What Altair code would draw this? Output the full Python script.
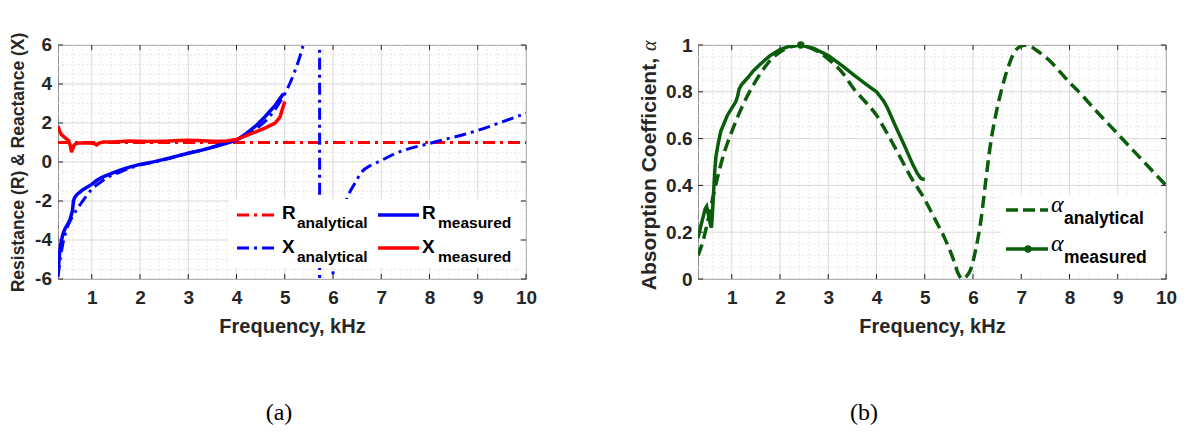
import altair as alt
import pandas as pd

# ---------------- panel (a): impedance ----------------
r_an_freq = [0.3, 10.0]
r_an_val = [1.0, 1.0]

x_an_freq = [0.3, 0.35, 0.4, 0.5, 0.6, 0.7, 0.8, 0.9, 1.0, 1.2, 1.4, 1.6, 1.8, 2.0,
             2.3, 2.6, 3.0, 3.3, 3.6, 4.0, 4.2, 4.4, 4.6, 4.8, 5.0, 5.1, 5.2, 5.3,
             5.38, 5.45, 5.72, 5.725, 5.9, 5.99, 6.05, 6.1, 6.2, 6.3, 6.45, 6.6,
             6.8, 7.0, 7.3, 7.6, 8.0, 8.3, 8.7, 9.0, 9.5, 10.0]
x_an_val = [-5.9, -4.9, -4.2, -3.3, -2.8, -2.4, -2.05, -1.7, -1.4, -1.0, -0.7, -0.5,
            -0.3, -0.15, 0.0, 0.18, 0.45, 0.62, 0.85, 1.15, 1.4, 1.7, 2.1, 2.7, 3.5,
            4.0, 4.6, 5.3, 6.0, 7.0, 100.0, -100.0, -9.0, -6.0, -4.4, -3.5, -2.5,
            -1.8, -1.1, -0.5, -0.15, 0.08, 0.45, 0.7, 0.95, 1.15, 1.4, 1.62, 2.05, 2.5]

# blue solid (legend: R measured)
blue_meas_freq = [0.3, 0.32, 0.35, 0.4, 0.45, 0.5, 0.55, 0.6, 0.62, 0.65, 0.7, 0.8, 0.9,
                  1.0, 1.1, 1.2, 1.4, 1.6, 1.8, 2.0, 2.3, 2.6, 3.0, 3.3, 3.6, 4.0, 4.2,
                  4.4, 4.6, 4.8, 4.9, 4.97]
blue_meas_val = [-5.8, -5.0, -4.3, -3.7, -3.4, -3.2, -2.95, -2.5, -2.0, -1.8, -1.65,
                 -1.45, -1.3, -1.15, -0.95, -0.8, -0.6, -0.4, -0.25, -0.12, 0.02, 0.2,
                 0.45, 0.62, 0.82, 1.12, 1.45, 1.85, 2.35, 2.9, 3.25, 3.5]

# red solid (legend: X measured)
red_meas_freq = [0.3, 0.33, 0.37, 0.42, 0.47, 0.52, 0.56, 0.58, 0.6, 0.63, 0.68, 0.75,
                 0.85, 0.95, 1.05, 1.1, 1.15, 1.25, 1.4, 1.6, 1.8, 2.0, 2.2, 2.5, 2.8,
                 3.0, 3.2, 3.5, 3.8, 4.0, 4.2, 4.4, 4.6, 4.8, 4.9, 4.95, 5.0]
red_meas_val = [1.85, 1.6, 1.4, 1.3, 1.2, 1.1, 0.8, 0.5, 0.65, 0.85, 0.95, 0.98, 0.97,
                0.98, 0.95, 0.88, 0.97, 1.02, 1.03, 1.05, 1.08, 1.06, 1.05, 1.07, 1.1,
                1.12, 1.1, 1.06, 1.08, 1.15, 1.35, 1.55, 1.75, 2.0, 2.3, 2.7, 3.1]

# ---------------- panel (b): absorption ----------------
a_an_freq = [0.3, 0.4, 0.5, 0.6, 0.7, 0.8, 0.9, 1.0, 1.2, 1.33, 1.6, 1.8, 2.0, 2.2,
             2.43, 2.6, 2.8, 3.0, 3.3, 3.54, 3.8, 4.0, 4.2, 4.44, 4.7, 5.0, 5.2, 5.4,
             5.6, 5.7, 5.78, 5.86, 5.95, 6.05, 6.17, 6.27, 6.37, 6.47, 6.58, 6.72,
             6.86, 7.0, 7.13, 7.3, 7.55, 8.0, 8.24, 8.5, 9.0, 9.5, 10.0]
a_an_val = [0.10, 0.16, 0.245, 0.34, 0.43, 0.51, 0.575, 0.63, 0.73, 0.785, 0.88, 0.935,
            0.97, 0.99, 1.0, 0.99, 0.97, 0.94, 0.88, 0.81, 0.75, 0.70, 0.63, 0.54, 0.44,
            0.34, 0.26, 0.18, 0.08, 0.02, 0.0, 0.01, 0.04, 0.12, 0.26, 0.43, 0.586,
            0.70, 0.80, 0.90, 0.97, 0.995, 1.0, 0.98, 0.94, 0.84, 0.79, 0.73, 0.62,
            0.51, 0.40]

a_meas_freq = [0.3, 0.35, 0.4, 0.45, 0.48, 0.5, 0.53, 0.56, 0.58, 0.6, 0.62, 0.65,
               0.67, 0.72, 0.77, 0.85, 0.91, 1.0, 1.08, 1.12, 1.15, 1.2, 1.33, 1.45,
               1.6, 1.8, 2.0, 2.2, 2.43, 2.7, 3.0, 3.3, 3.54, 3.8, 4.0, 4.15, 4.23,
               4.4, 4.58, 4.75, 4.85, 4.92, 5.0]
a_meas_val = [0.175, 0.22, 0.26, 0.30, 0.31, 0.29, 0.26, 0.23, 0.22, 0.28, 0.36, 0.47,
              0.52, 0.58, 0.63, 0.67, 0.70, 0.73, 0.756, 0.78, 0.81, 0.83, 0.86, 0.89,
              0.92, 0.955, 0.98, 0.995, 1.0, 0.985, 0.955, 0.91, 0.87, 0.83, 0.80,
              0.76, 0.73, 0.65, 0.57, 0.49, 0.45, 0.43, 0.425]
a_peak_freq = [2.43]
a_peak_val = [1.0]

# tick values / labels
x_major = [1, 2, 3, 4, 5, 6, 7, 8, 9, 10]
ya_major = [-6, -4, -2, 0, 2, 4, 6]
ya_labels = ["-6", "-4", "-2", "0", "2", "4", "6"]
yb_major = [0, 0.2, 0.4, 0.6, 0.8, 1]
x_minor = [round(0.2 * i, 2) for i in range(2, 51) if i % 5]
ya_minor = [round(-6 + 0.5 * i, 2) for i in range(0, 25) if i % 4]
yb_minor = [round(0.05 * i, 2) for i in range(0, 21) if i % 4]

captions = ["(a)", "(b)"]

# ---------------- styling ----------------
W, H = 468, 234
TXT = "#262626"
SANS = "Liberation Sans"
SERIF = "Liberation Serif"
RED, BLUE, GREEN = "#ff0000", "#0000ff", "#0b5d0b"
MAJ_GRID, MIN_GRID = "#d9d9d9", "#e8e8e8"
DASHDOT = [12, 5, 3, 5]
DOT = pd.DataFrame({"d": [0]})


def df(f, v):
    return pd.DataFrame({"f": f, "v": v})


def rule(x1, x2, y, color, width, dash=None):
    kw = dict(color=color, strokeWidth=width)
    if dash:
        kw["strokeDash"] = dash
    return alt.Chart(DOT).mark_rule(**kw).encode(
        x=alt.value(x1), x2=alt.value(x2), y=alt.value(y))


def txt(x, y, s, size, font=SANS, weight="bold", style="normal", align="left", angle=0,
        color="black"):
    return alt.Chart(DOT).mark_text(
        text=s, font=font, fontSize=size, fontWeight=weight, fontStyle=style,
        align=align, baseline="alphabetic", angle=angle, color=color,
    ).encode(x=alt.value(x), y=alt.value(y))


def box(x1, x2, y1, y2):
    return alt.Chart(DOT).mark_rect(color="white").encode(
        x=alt.value(x1), x2=alt.value(x2), y=alt.value(y1), y2=alt.value(y2))


def grid_and_ticks(xs, ys, xmin, ymin):
    layers = []
    layers.append(alt.Chart(pd.DataFrame({"f": xmin})).mark_rule(
        color=MIN_GRID, strokeWidth=1, strokeDash=[2, 2]).encode(
        x=alt.X("f:Q"), y=alt.value(0), y2=alt.value(H)))
    layers.append(alt.Chart(pd.DataFrame({"v": ymin})).mark_rule(
        color=MIN_GRID, strokeWidth=1, strokeDash=[2, 2]).encode(
        y=alt.Y("v:Q"), x=alt.value(0), x2=alt.value(W)))
    layers.append(alt.Chart(pd.DataFrame({"f": xs})).mark_rule(
        color=MAJ_GRID, strokeWidth=1).encode(
        x=alt.X("f:Q"), y=alt.value(0), y2=alt.value(H)))
    layers.append(alt.Chart(pd.DataFrame({"v": ys})).mark_rule(
        color=MAJ_GRID, strokeWidth=1).encode(
        y=alt.Y("v:Q"), x=alt.value(0), x2=alt.value(W)))
    for a, b in ((0, 5), (H - 5, H)):
        layers.append(alt.Chart(pd.DataFrame({"f": xs})).mark_rule(
            color=TXT, strokeWidth=1).encode(
            x=alt.X("f:Q"), y=alt.value(a), y2=alt.value(b)))
    for a, b in ((0, 5), (W - 5, W)):
        layers.append(alt.Chart(pd.DataFrame({"v": ys})).mark_rule(
            color=TXT, strokeWidth=1).encode(
            y=alt.Y("v:Q"), x=alt.value(a), x2=alt.value(b)))
    return layers


xscale = alt.Scale(domain=[0.3, 10], nice=False, zero=False)
ya_scale = alt.Scale(domain=[-6, 6], nice=False, zero=False)
yb_scale = alt.Scale(domain=[0, 1], nice=False, zero=False)

common_axis = dict(grid=False, ticks=False, domain=False, labelFlush=False, labelOverlap=False,
                   labelExpr="toString(datum.value)", labelFont=SANS, labelFontSize=19,
                   labelFontWeight="bold", labelColor=TXT, titleFont=SANS,
                   titleFontWeight="bold", titleColor=TXT)
x_axis = alt.Axis(values=x_major, title="Frequency, kHz", labelPadding=9, titlePadding=9,
                  titleFontSize=20, **common_axis)
ya_axis = alt.Axis(values=ya_major, title="Resistance (R) & Reactance (X)", labels=False,
                   titlePadding=31, titleFontSize=17.5, **common_axis)
yb_axis = alt.Axis(values=yb_major, title=None, labelPadding=6, **common_axis)

# ---- panel (a) layers ----
r_an = alt.Chart(df(r_an_freq, r_an_val)).mark_line(
    color=RED, strokeWidth=3, strokeDash=DASHDOT, clip=True).encode(
    x=alt.X("f:Q", scale=xscale, axis=x_axis), y=alt.Y("v:Q", scale=ya_scale, axis=ya_axis))
x_an = alt.Chart(df(x_an_freq, x_an_val)).mark_line(
    color=BLUE, strokeWidth=3, strokeDash=DASHDOT, clip=True, interpolate="monotone").encode(
    x=alt.X("f:Q"), y=alt.Y("v:Q"))
blue_meas = alt.Chart(df(blue_meas_freq, blue_meas_val)).mark_line(
    color=BLUE, strokeWidth=3.5, clip=True).encode(x=alt.X("f:Q"), y=alt.Y("v:Q"))
red_meas = alt.Chart(df(red_meas_freq, red_meas_val)).mark_line(
    color=RED, strokeWidth=3.5, clip=True).encode(x=alt.X("f:Q"), y=alt.Y("v:Q"))

ya_text = alt.Chart(pd.DataFrame({"v": ya_major, "lab": ya_labels})).mark_text(
    font=SANS, fontSize=19, fontWeight="bold", color=TXT, align="right", baseline="middle"
).encode(y=alt.Y("v:Q"), x=alt.value(-6), text="lab:N")

leg_a = [
    box(171, 462, 154, 223),
    rule(179, 220, 170, RED, 3, DASHDOT),
    txt(224, 174, "R", 19),
    txt(239, 183, "analytical", 15.5),
    rule(179, 220, 203, BLUE, 3, DASHDOT),
    txt(224, 208, "X", 19),
    txt(239, 217, "analytical", 15.5),
    rule(320, 361, 170, BLUE, 3.5),
    txt(364, 174, "R", 19),
    txt(380, 183, "measured", 15.5),
    rule(320, 361, 203, RED, 3.5),
    txt(364, 208, "X", 19),
    txt(380, 217, "measured", 15.5),
]

panel_a = alt.layer(
    *grid_and_ticks(x_major, ya_major, x_minor, ya_minor),
    r_an, x_an, blue_meas, red_meas, ya_text,
    *leg_a,
    txt(221, 375, captions[0], 24, font=SERIF, weight="normal", align="center"),
).properties(width=W, height=H)

# ---- panel (b) layers ----
a_an = alt.Chart(df(a_an_freq, a_an_val)).mark_line(
    color=GREEN, strokeWidth=3.5, strokeDash=[12, 6], clip=True, interpolate="monotone").encode(
    x=alt.X("f:Q", scale=xscale, axis=x_axis), y=alt.Y("v:Q", scale=yb_scale, axis=yb_axis))
a_meas = alt.Chart(df(a_meas_freq, a_meas_val)).mark_line(
    color=GREEN, strokeWidth=3.5, clip=True).encode(x=alt.X("f:Q"), y=alt.Y("v:Q"))
a_peak = alt.Chart(df(a_peak_freq, a_peak_val)).mark_point(
    color=GREEN, filled=True, opacity=1, size=55, shape="circle").encode(
    x=alt.X("f:Q"), y=alt.Y("v:Q"))

leg_b = [
    box(303, 466, 150, 229),
    rule(308, 350, 165, GREEN, 3.5, [12, 5]),
    txt(353, 167, "α", 24, font=SERIF, weight="normal", style="italic"),
    txt(366, 179, "analytical", 17.5),
    rule(308, 350, 204, GREEN, 3.5),
    alt.Chart(DOT).mark_point(color=GREEN, filled=True, opacity=1, size=55, shape="circle").encode(
        x=alt.value(330), y=alt.value(204)),
    txt(353, 206, "α", 24, font=SERIF, weight="normal", style="italic"),
    txt(366, 218, "measured", 17.5),
]

panel_b = alt.layer(
    *grid_and_ticks(x_major, yb_major, x_minor, yb_minor),
    a_an, a_meas, a_peak,
    *leg_b,
    txt(-42, 13, "Absorption Coefficient,", 21, align="right", angle=270, color=TXT),
    txt(-42, 6, "α", 20, font=SERIF, weight="normal", style="italic", angle=270, color=TXT),
    txt(166, 375, captions[1], 24, font=SERIF, weight="normal", align="center"),
).properties(width=W, height=H)

chart = alt.hconcat(panel_a, panel_b, spacing=100).properties(
    padding={"left": 8, "top": 31, "right": 5, "bottom": 5}, background="white"
).configure_view(stroke="#8c8c8c", strokeWidth=1)

chart.save("out.html", embed_options={"renderer": "svg", "actions": False})
